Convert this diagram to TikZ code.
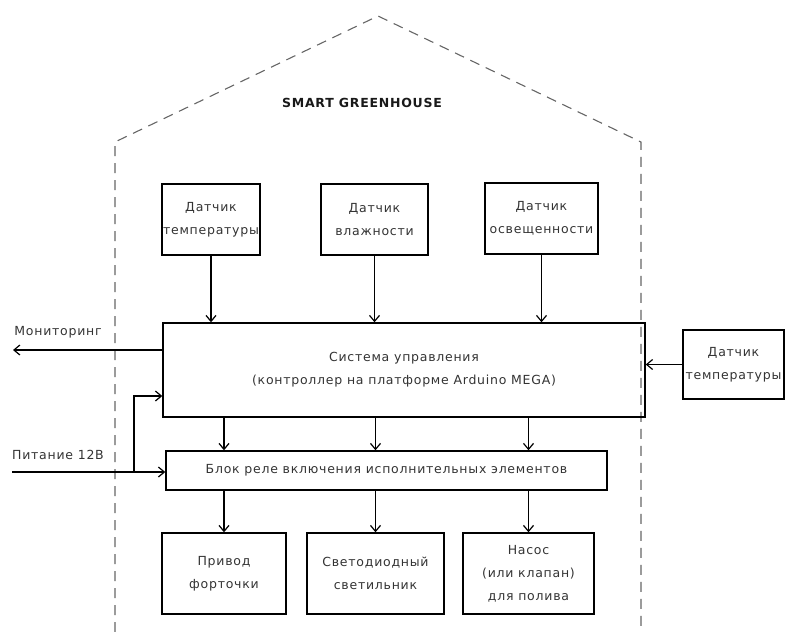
\documentclass[tikz,border=0pt]{standalone}
\usepackage{fontspec}
\setmainfont{DejaVu Sans}[LetterSpace=6]
\usetikzlibrary{arrows.meta}
\begin{document}
\begin{tikzpicture}[x=1pt,y=-1pt,
  box/.style={draw=black,line width=1.4pt,align=center,inner sep=0pt,font=\fontsize{12.5}{23}\selectfont,text=black!80},
  arr/.style={line width=1.4pt,-{Straight Barb[length=6pt,width=10pt,line width=1.2pt]}},
  wall/.style={draw=black!60,line width=1.1pt,dash pattern=on 10pt off 7pt},
  lbl/.style={font=\fontsize{12.5}{15}\selectfont,text=black!80}]
\useasboundingbox (0,0) rectangle (785,632);
% house outline
\draw[wall] (115,632) -- (115,142) -- (378,16) -- (641,142) -- (641,632);
\node[font=\bfseries\fontsize{12.5}{14}\selectfont,text=black!90] (title) at (362,103) {SMART GREENHOUSE};
% sensors
\node[box,minimum width=98pt,minimum height=71pt] (s1) at (211,219.5) {Датчик\\температуры};
\node[box,minimum width=107pt,minimum height=71pt] (s2) at (374.5,219.5) {Датчик\\влажности};
\node[box,minimum width=113pt,minimum height=71pt] (s3) at (541.5,218.5) {Датчик\\освещенности};
% control
\node[box,minimum width=482pt,minimum height=94pt] (ctrl) at (404,370) {Система управления\\(контроллер на платформе Arduino MEGA)};
\node[box,minimum width=441pt,minimum height=39pt] (relay) at (386.5,470.5) {Блок реле включения исполнительных элементов};
% external sensor
\node[box,minimum width=101pt,minimum height=69pt] (s4) at (733.5,364.5) {Датчик\\температуры};
% actuators
\node[box,minimum width=124pt,minimum height=81pt] (a1) at (224,573.5) {Привод\\форточки};
\node[box,minimum width=137pt,minimum height=81pt] (a2) at (375.5,573.5) {Светодиодный\\светильник};
\node[box,minimum width=131pt,minimum height=81pt] (a3) at (528.5,573.5) {Насос\\(или клапан)\\для полива};
% sensor arrows
\draw[arr] (s1.south) -- (ctrl.north -| s1.south);
\draw[arr] (s2.south) -- (ctrl.north -| s2.south);
\draw[arr] (s3.south) -- (ctrl.north -| s3.south);
\draw[arr] (s4.west) -- (ctrl.east |- s4.west);
% control to relay
\draw[arr] (ctrl.south -| a1.north) -- (relay.north -| a1.north);
\draw[arr] (ctrl.south -| a2.north) -- (relay.north -| a2.north);
\draw[arr] (ctrl.south -| a3.north) -- (relay.north -| a3.north);
% relay to actuators
\draw[arr] (relay.south -| a1.north) -- (a1.north);
\draw[arr] (relay.south -| a2.north) -- (a2.north);
\draw[arr] (relay.south -| a3.north) -- (a3.north);
% monitoring
\coordinate (mon) at (13,350);
\draw[arr] (ctrl.west |- mon) -- (mon);
\node[lbl] (monl) at (58,332) {Мониторинг};
% power
\coordinate (pw) at (12,472);
\coordinate (pj) at (134,472);
\coordinate (pin) at (134,396);
\draw[arr] (pw) -- (relay.west |- pw);
\draw[arr] (pj) -- (pin) -- (ctrl.west |- pin);
\node[lbl] (pwl) at (58,455) {Питание 12В};
\end{tikzpicture}
\end{document}
